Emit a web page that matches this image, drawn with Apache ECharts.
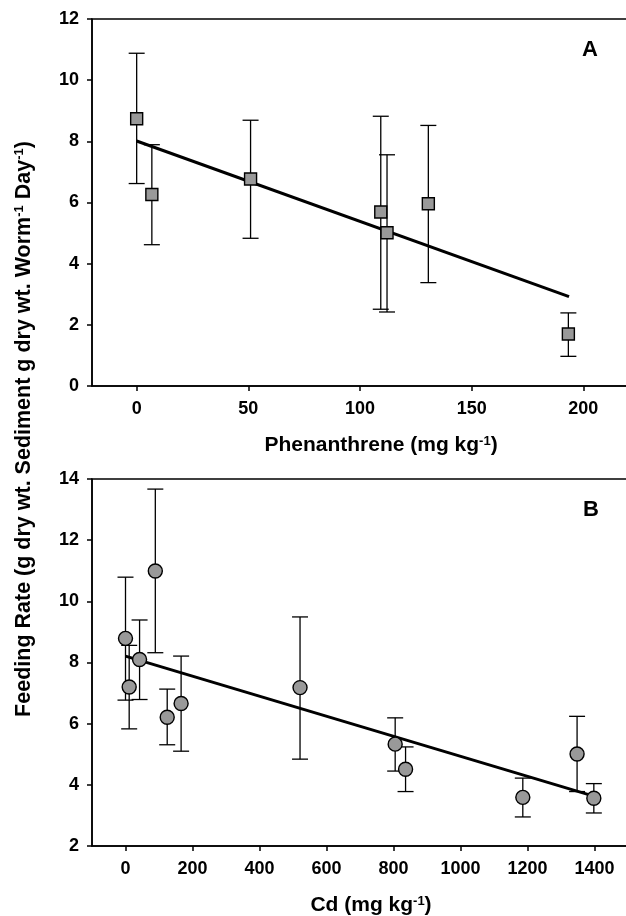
<!DOCTYPE html>
<html><head><meta charset="utf-8">
<script src="https://cdn.jsdelivr.net/npm/echarts@6/dist/echarts.min.js"></script>
<style>html,body{margin:0;padding:0;background:#fff}#c{width:626px;height:916px}</style>
</head><body><div id="c"></div>
<script>
// Panel A: Phenanthrene
const phenX  = [0, 6.8, 51, 109.3, 112.1, 130.6, 193.3];
const phenY  = [8.74, 6.26, 6.77, 5.69, 5.01, 5.96, 1.70];
const phenLo = [6.62, 4.62, 4.83, 2.51, 2.42, 3.38, 0.97];
const phenHi = [10.88, 7.89, 8.69, 8.82, 7.56, 8.52, 2.39];
const phenFitX = [0, 193.6];
const phenFitY = [8.01, 2.92];
const phenTicks = [0, 50, 100, 150, 200];
const phenYTicks = [0, 2, 4, 6, 8, 10, 12];

// Panel B: Cd
const cdX  = [0, 11, 42, 89, 124.5, 166, 521, 805, 836, 1186, 1348, 1398];
const cdY  = [8.79, 7.20, 8.10, 10.99, 6.21, 6.66, 7.18, 5.33, 4.51, 3.59, 5.01, 3.56];
const cdLo = [6.77, 5.83, 6.79, 8.32, 5.31, 5.10, 4.84, 4.45, 3.78, 2.95, 3.78, 3.08];
const cdHi = [10.79, 8.56, 9.39, 13.67, 7.13, 8.21, 9.49, 6.19, 5.24, 4.22, 6.24, 4.04];
const cdFitX = [0, 1380];
const cdFitY = [8.21, 3.69];
const cdTicks = [0, 200, 400, 600, 800, 1000, 1200, 1400];
const cdYTicks = [2, 4, 6, 8, 10, 12, 14];

const FONT = '"Liberation Sans", Arial, Helvetica, sans-serif';
const chart = echarts.init(document.getElementById('c'), null, {renderer: 'canvas'});

function errItem(params, api) {
  const x = api.value(0), lo = api.value(1), hi = api.value(2);
  const p1 = api.coord([x, hi]), p2 = api.coord([x, lo]);
  const w = 8;
  const style = {stroke: '#000', lineWidth: 1.3, fill: null};
  return {type: 'group', children: [
    {type: 'line', shape: {x1: p1[0], y1: p1[1], x2: p2[0], y2: p2[1]}, style: style},
    {type: 'line', shape: {x1: p1[0] - w, y1: p1[1], x2: p1[0] + w, y2: p1[1]}, style: style},
    {type: 'line', shape: {x1: p2[0] - w, y1: p2[1], x2: p2[0] + w, y2: p2[1]}, style: style}
  ]};
}

const lbl = {fontSize: 18, fontWeight: 'bold', color: '#000', fontFamily: FONT, formatter: v => String(v)};
const axLine = {show: true, onZero: false, lineStyle: {color: '#000', width: 1.5}};

function xAx(gi, min, max, ticks) {
  return {gridIndex: gi, type: 'value', min: min, max: max,
    axisLine: axLine,
    axisTick: {show: true, length: 5, inside: false, lineStyle: {color: '#000', width: 1.5}, customValues: ticks},
    axisLabel: Object.assign({customValues: ticks, margin: 14}, lbl),
    splitLine: {show: false}};
}
function yAx(gi, min, max, ticks) {
  return {gridIndex: gi, type: 'value', min: min, max: max, interval: 2,
    axisLine: axLine,
    axisTick: {show: true, length: 5, lineStyle: {color: '#000', width: 1.5}},
    axisLabel: Object.assign({margin: 13}, lbl),
    splitLine: {show: false}};
}

const sup = {fontSize: 13, fontWeight: 'bold', fontFamily: FONT, fill: '#000', verticalAlign: 'top'};

chart.setOption({
  animation: false,
  backgroundColor: '#fff',
  grid: [
    {left: 92, top: 19, width: 536, height: 367, show: true, borderColor: '#000', borderWidth: 1.5, containLabel: false, outerBoundsMode: 'none'},
    {left: 92, top: 479, width: 536, height: 367, show: true, borderColor: '#000', borderWidth: 1.5, containLabel: false, outerBoundsMode: 'none'}
  ],
  xAxis: [xAx(0, -20, 220, phenTicks), xAx(1, -100, 1500, cdTicks)],
  yAxis: [yAx(0, 0, 12, phenYTicks), yAx(1, 2, 14, cdYTicks)],
  series: [
    {type: 'custom', xAxisIndex: 0, yAxisIndex: 0, renderItem: errItem, encode: {x: 0, y: [1, 2]}, z: 1,
      data: phenX.map((x, i) => [x, phenLo[i], phenHi[i]])},
    {type: 'line', xAxisIndex: 0, yAxisIndex: 0, symbol: 'none', z: 2,
      lineStyle: {color: '#000', width: 3}, data: phenFitX.map((x, i) => [x, phenFitY[i]])},
    {type: 'scatter', xAxisIndex: 0, yAxisIndex: 0, symbol: 'rect', symbolSize: 12, z: 3,
      itemStyle: {color: '#999999', borderColor: '#000', borderWidth: 1.4, opacity: 1},
      data: phenX.map((x, i) => [x, phenY[i]])},
    {type: 'custom', xAxisIndex: 1, yAxisIndex: 1, renderItem: errItem, encode: {x: 0, y: [1, 2]}, z: 1,
      data: cdX.map((x, i) => [x, cdLo[i], cdHi[i]])},
    {type: 'line', xAxisIndex: 1, yAxisIndex: 1, symbol: 'none', z: 2,
      lineStyle: {color: '#000', width: 3}, data: cdFitX.map((x, i) => [x, cdFitY[i]])},
    {type: 'scatter', xAxisIndex: 1, yAxisIndex: 1, symbol: 'circle', symbolSize: 14, z: 3,
      itemStyle: {color: '#999999', borderColor: '#000', borderWidth: 1.4, opacity: 1},
      data: cdX.map((x, i) => [x, cdY[i]])}
  ],
  graphic: [
    {type: 'text', x: 590, y: 50, z: 10, style: {text: 'A', fontSize: 22, fontWeight: 'bold', fontFamily: FONT, fill: '#000', align: 'center', verticalAlign: 'middle'}},
    {type: 'text', x: 591, y: 510, z: 10, style: {text: 'B', fontSize: 22, fontWeight: 'bold', fontFamily: FONT, fill: '#000', align: 'center', verticalAlign: 'middle'}},
    {type: 'text', x: 381, y: 445, z: 10, style: {text: 'Phenanthrene (mg kg{sup|-1})', fontSize: 21, fontWeight: 'bold', fontFamily: FONT, fill: '#000', align: 'center', verticalAlign: 'middle', rich: {sup: sup}}},
    {type: 'text', x: 371, y: 905, z: 10, style: {text: 'Cd (mg kg{sup|-1})', fontSize: 21, fontWeight: 'bold', fontFamily: FONT, fill: '#000', align: 'center', verticalAlign: 'middle', rich: {sup: sup}}},
    {type: 'text', x: 24, y: 429, rotation: Math.PI / 2, z: 10, style: {text: 'Feeding Rate (g dry wt. Sediment g dry wt. Worm{sup|-1} Day{sup|-1})', fontSize: 21.5, fontWeight: 'bold', fontFamily: FONT, fill: '#000', align: 'center', verticalAlign: 'middle', rich: {sup: sup}}}
  ]
});
</script></body></html>
